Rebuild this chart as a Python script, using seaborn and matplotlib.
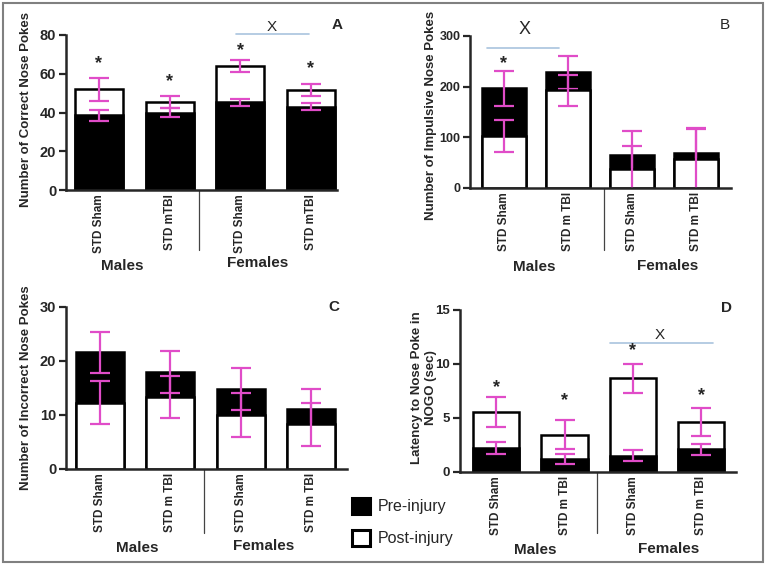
import matplotlib
matplotlib.use("Agg")
import matplotlib.pyplot as plt
from matplotlib.patches import Patch, Rectangle
import matplotlib.transforms as mtransforms
import pandas as pd
import seaborn as sns

# ---- data ----
keys = ["M Sham", "M mTBI", "F Sham", "F mTBI"]
labels_a = ["STD Sham", "STD mTBI", "STD Sham", "STD mTBI"]
labels_bcd = ["STD Sham", "STD m TBI", "STD Sham", "STD m TBI"]

correct_pre = [38.5, 40.0, 45.3, 43.0]
correct_pre_err = [2.9, 2.5, 1.8, 1.8]
correct_post = [52.0, 45.5, 64.0, 51.5]
correct_post_err = [5.9, 3.2, 3.2, 3.2]

impulsive_pre = [197, 228, 66, 69]
impulsive_pre_err = [34.5, 33, 47, 50]
impulsive_post = [103, 193, 38, 58]
impulsive_post_err = [32, 31, 45, 59]

incorrect_pre = [21.6, 17.9, 14.8, 11.2]
incorrect_pre_err = [3.8, 3.9, 3.9, 3.7]
incorrect_post = [12.3, 13.3, 10.0, 8.3]
incorrect_post_err = [4.0, 3.9, 4.0, 4.0]

latency_pre = [2.2, 1.2, 1.5, 2.1]
latency_pre_err = [0.55, 0.5, 0.52, 0.52]
latency_post = [5.55, 3.45, 8.68, 4.6]
latency_post_err = [1.35, 1.35, 1.32, 1.3]

PINK = "#e04cc8"
LINE_BLUE = "#a9c3de"

sns.set_style("ticks")
plt.rcParams["font.family"] = ["Liberation Sans", "DejaVu Sans"]

W, H = 766, 565
fig = plt.figure(figsize=(W / 100, H / 100), dpi=100)


def fx(px):
    return px / W


def fy(py):
    return 1 - py / H


def make_axes(left, right, top, bottom):
    return fig.add_axes([fx(left), fy(bottom), (right - left) / W, (bottom - top) / H])


def draw_panel(ax, pre, pre_err, post, post_err, ylim, yticks, xlim, width,
               ticklabels, ylabel, tick_fs):
    pre_df = pd.DataFrame({"group": keys, "value": pre})
    post_df = pd.DataFrame({"group": keys, "value": post})
    # the taller series sits behind, the shorter one is drawn over it
    if sum(pre) > sum(post):
        layers = [(pre_df, pre_err, "black"), (post_df, post_err, "white")]
    else:
        layers = [(post_df, post_err, "white"), (pre_df, pre_err, "black")]
    z = 1
    for df, err, col in layers:
        sns.barplot(data=df, x="group", y="value", order=keys, color=col,
                    edgecolor="black", linewidth=1.8, width=width, saturation=1,
                    errorbar=None, ax=ax, zorder=z)
        ax.errorbar(range(len(keys)), df["value"], yerr=err, fmt="none",
                    ecolor=PINK, elinewidth=1.6, capsize=7, capthick=1.6,
                    zorder=z + 1)
        z += 2
    ax.set_xlim(*xlim)
    ax.set_ylim(*ylim)
    ax.set_yticks(yticks)
    ax.set_xticks(range(len(keys)))
    ax.set_xticklabels(ticklabels, rotation=90, fontweight="bold", fontsize=8.5)
    for t in ax.get_yticklabels():
        t.set_fontweight("bold")
        t.set_fontsize(tick_fs)
    ax.tick_params(axis="y", length=5, width=1.6, pad=2)
    ax.tick_params(axis="x", length=0, pad=3)
    ax.set_xlabel("")
    ax.set_ylabel(ylabel, fontweight="bold", fontsize=9.5)
    sns.despine(ax=ax)
    for s in ("left", "bottom"):
        ax.spines[s].set_linewidth(1.8)
        ax.spines[s].set_zorder(6)


def divider(ax, x, depth):
    trans = mtransforms.blended_transform_factory(ax.transData, ax.transAxes)
    ax.plot([x, x], [0, -depth], color="#444444", lw=0.9, transform=trans,
            clip_on=False)


def sex_labels(ax, xm, ym, xf, yf):
    trans = mtransforms.blended_transform_factory(ax.transData, ax.transAxes)
    ax.text(xm, ym, "Males", transform=trans, ha="center", va="center",
            fontweight="bold", fontsize=11)
    ax.text(xf, yf, "Females", transform=trans, ha="center", va="center",
            fontweight="bold", fontsize=11)


def stars(ax, xs, ys):
    for x, y in zip(xs, ys):
        ax.text(x, y, "*", ha="center", va="center", fontweight="bold",
                fontsize=13, clip_on=False)


def x_mark(ax, x0, x1, yline, xt, yt, fs):
    ax.plot([x0, x1], [yline, yline], color=LINE_BLUE, lw=1.2, clip_on=False)
    ax.text(xt, yt, "X", ha="center", va="center", fontsize=fs, clip_on=False)


# ---- panel A ----
axA = make_axes(66, 337, 35, 190)
draw_panel(axA, correct_pre, correct_pre_err, correct_post, correct_post_err,
           (0, 80), [0, 20, 40, 60, 80], (-0.467, 3.37), 0.68, labels_a,
           "Number of Correct Nose Pokes", 10.5)
axA.yaxis.set_label_coords(-0.125, 0.52)
divider(axA, 1.41, 0.387)
sex_labels(axA, 0.33, -0.49, 2.25, -0.47)
stars(axA, range(4), [65, 56, 72, 62.5])
x_mark(axA, 1.94, 2.98, 80.3, 2.45, 84, 11)

# ---- panel B ----
axB = make_axes(470, 731, 36, 188)
draw_panel(axB, impulsive_pre, impulsive_pre_err, impulsive_post, impulsive_post_err,
           (0, 300), [0, 100, 200, 300], (-0.53, 3.55), 0.69, labels_bcd,
           "Number of Impulsive Nose Pokes", 9)
axB.yaxis.set_label_coords(-0.128, 0.48)
divider(axB, 1.56, 0.41)
sex_labels(axB, 0.48, -0.52, 2.56, -0.51)
stars(axB, [0], [246])
x_mark(axB, -0.27, 0.86, 276, 0.33, 312, 13)

# ---- panel C ----
axC = make_axes(66, 347, 307, 469)
draw_panel(axC, incorrect_pre, incorrect_pre_err, incorrect_post, incorrect_post_err,
           (0, 30), [0, 10, 20, 30], (-0.48, 3.51), 0.68, labels_bcd,
           "Number of Incorrect Nose Pokes", 10.5)
axC.yaxis.set_label_coords(-0.12, 0.5)
divider(axC, 1.48, 0.395)
sex_labels(axC, 0.53, -0.49, 2.32, -0.475)

# ---- panel D ----
axD = make_axes(460, 736, 310, 472)
draw_panel(axD, latency_pre, latency_pre_err, latency_post, latency_post_err,
           (0, 15), [0, 5, 10, 15], (-0.53, 3.51), 0.68, labels_bcd,
           "Latency to Nose Poke in\nNOGO (sec)", 9.5)
axD.yaxis.set_label_coords(-0.085, 0.52)
divider(axD, 1.47, 0.377)
sex_labels(axD, 0.57, -0.48, 2.52, -0.475)
stars(axD, range(4), [7.8, 6.65, 11.2, 7.1])
x_mark(axD, 1.67, 3.18, 11.9, 2.4, 12.7, 11)

# ---- panel letters ----
fig.text(fx(337), fy(25), "A", ha="center", va="center", fontweight="bold", fontsize=11)
fig.text(fx(725), fy(25), "B", ha="center", va="center", fontsize=11)
fig.text(fx(334), fy(307), "C", ha="center", va="center", fontweight="bold", fontsize=11)
fig.text(fx(726), fy(308), "D", ha="center", va="center", fontweight="bold", fontsize=11)

# ---- legend ----
handles = [Patch(facecolor="black", edgecolor="black", linewidth=2.2, label="Pre-injury"),
           Patch(facecolor="white", edgecolor="black", linewidth=2.2, label="Post-injury")]
fig.legend(handles=handles, loc="upper left", bbox_to_anchor=(fx(352), fy(498)),
           frameon=False, handlelength=1.13, handleheight=1.13, handletextpad=0.5,
           labelspacing=1.0, borderpad=0, borderaxespad=0,
           prop={"family": ["Liberation Sans Narrow", "DejaVu Sans Condensed",
                            "Liberation Sans"], "stretch": "condensed", "size": 11.5})

# ---- outer frame ----
fig.add_artist(Rectangle((fx(3), fy(562)), (763 - 3) / W, (562 - 3) / H,
                         transform=fig.transFigure, fill=False,
                         edgecolor="#808080", linewidth=1.5))

fig.savefig("out.png", dpi=100)
